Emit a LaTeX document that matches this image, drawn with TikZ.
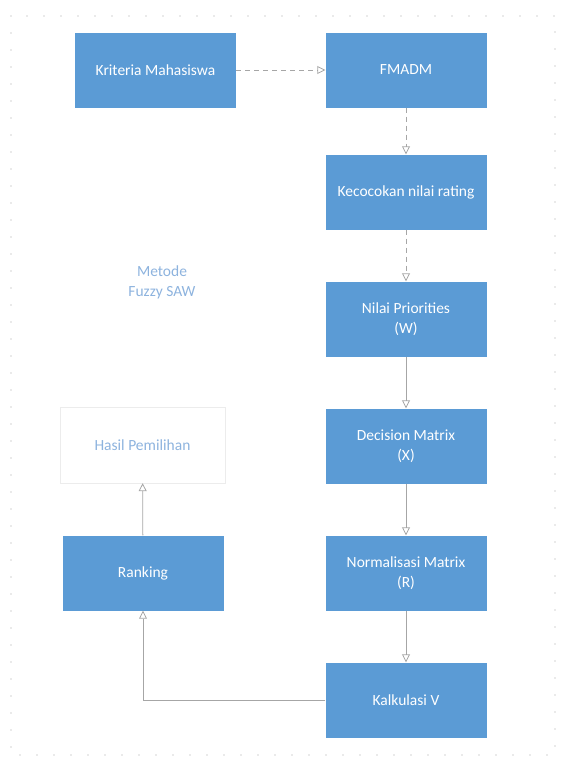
\documentclass[tikz,border=0pt]{standalone}
\usepackage{fontspec}
\setmainfont{Carlito}
\usetikzlibrary{arrows.meta}
\definecolor{boxblue}{HTML}{5B9BD5}
\definecolor{linegray}{HTML}{A6A6A6}
\definecolor{paleblue}{HTML}{8DB3DE}

\begin{document}
\begin{tikzpicture}[x=1pt, y=-1pt,
    block/.style={fill=boxblue, text=white, minimum width=161pt, minimum height=75pt, align=center, font=\fontsize{15.5}{20}\selectfont},
    result/.style={draw=gray!15, text=paleblue, minimum width=165pt, minimum height=76pt, align=center, font=\fontsize{15.5}{20}\selectfont},
    flow/.style={draw=linegray, line width=0.8pt, -{Triangle[open, length=8pt, width=8pt]}},
    dashflow/.style={flow, dash pattern=on 5pt off 4pt}]
            \useasboundingbox (0,0) rectangle (560,766);
            \draw[gray!70, line width=1.4pt, line cap=round, dash pattern=on 0pt off 17pt] (11,16) rectangle (555,755);

            \node[block] (kriteria) at (155.5,70) {Kriteria Mahasiswa};
            \node[block] (fmadm) at (406,70) {FMADM};
            \node[block] (kecocokan) at (406,192) {Kecocokan nilai rating};
            \node[block] (nilai) at (406,319) {Nilai Priorities\\(W)};
            \node[block] (decision) at (406,446) {Decision Matrix\\(X)};
            \node[block] (normal) at (406,573) {Normalisasi Matrix\\(R)};
            \node[block] (kalkulasi) at (406,700) {Kalkulasi V};
            \node[block] (ranking) at (143,573) {Ranking};
            \node[result] (hasil) at (142.5,445) {Hasil Pemilihan};
            \node[text=paleblue, align=center, font=\fontsize{15.5}{20}\selectfont] (metode) at (162,282) {Metode\\Fuzzy SAW};

            \draw[dashflow] (kriteria) -- (fmadm);
            \draw[dashflow] (fmadm) -- (kecocokan);
            \draw[dashflow] (kecocokan) -- (nilai);
            \draw[flow] (nilai) -- (decision);
            \draw[flow] (decision) -- (normal);
            \draw[flow] (normal) -- (kalkulasi);
            \draw[flow] (kalkulasi.west) -| (ranking.south);
            \draw[flow] (ranking) -- (hasil);
        \end{tikzpicture}
\end{document}
